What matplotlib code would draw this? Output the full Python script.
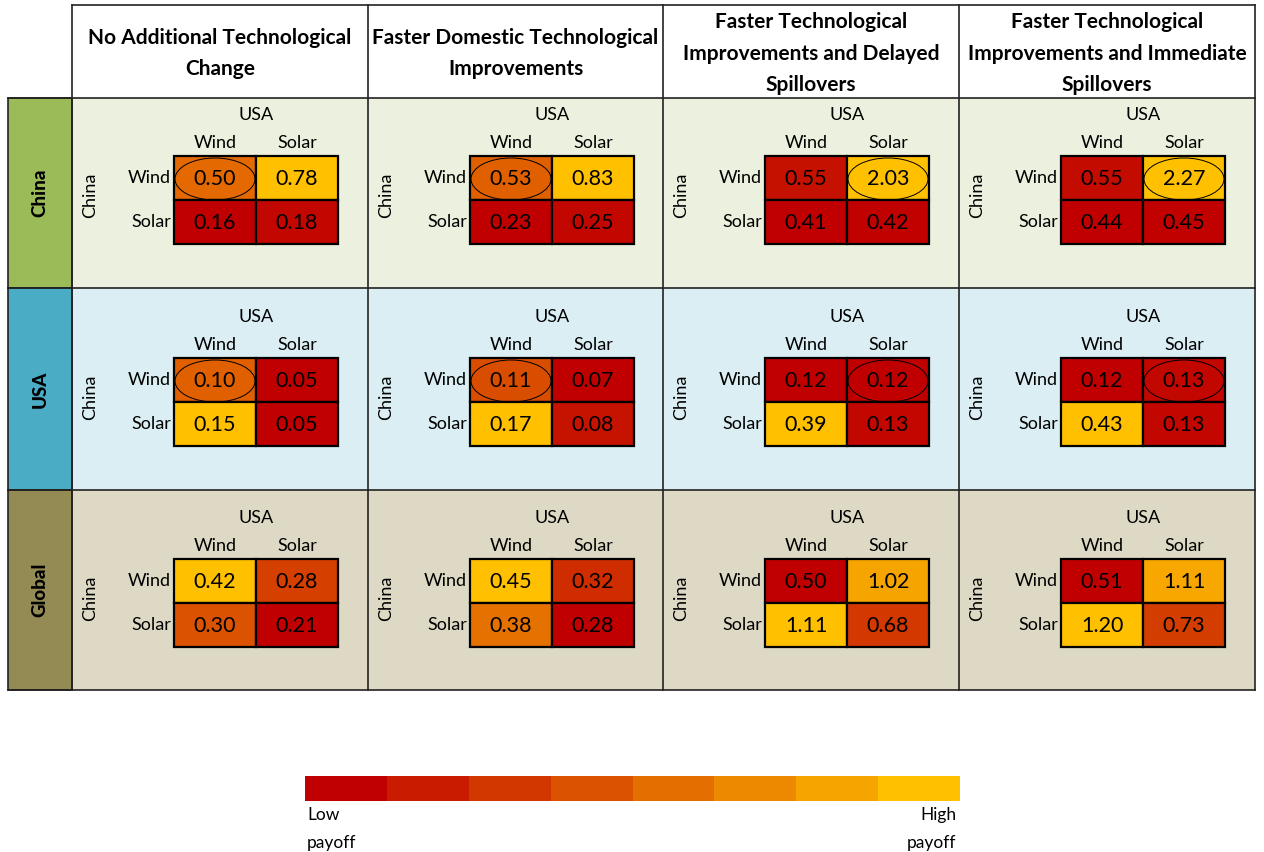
import numpy as np
import matplotlib
matplotlib.use("Agg")
import matplotlib.pyplot as plt
from matplotlib.patches import Rectangle, Ellipse
from matplotlib.colors import LinearSegmentedColormap, Normalize

plt.rcParams['font.family'] = ['Lato', 'DejaVu Sans']

# data
scenarios = ["No Additional Technological\nChange",
             "Faster Domestic Technological\nImprovements",
             "Faster Technological\nImprovements and Delayed\nSpillovers",
             "Faster Technological\nImprovements and Immediate\nSpillovers"]
regions = ["China", "USA", "Global"]
strategies = ["Wind", "Solar"]

# rows = China strategy, cols = USA strategy
china_payoff = [[[0.50, 0.78], [0.16, 0.18]],
                [[0.53, 0.83], [0.23, 0.25]],
                [[0.55, 2.03], [0.41, 0.42]],
                [[0.55, 2.27], [0.44, 0.45]]]
usa_payoff = [[[0.10, 0.05], [0.15, 0.05]],
              [[0.11, 0.07], [0.17, 0.08]],
              [[0.12, 0.12], [0.39, 0.13]],
              [[0.12, 0.13], [0.43, 0.13]]]
global_payoff = [[[0.42, 0.28], [0.30, 0.21]],
                 [[0.45, 0.32], [0.38, 0.28]],
                 [[0.50, 1.02], [1.11, 0.68]],
                 [[0.51, 1.11], [1.20, 0.73]]]
payoffs = [china_payoff, usa_payoff, global_payoff]

# circled cells (china strategy, usa strategy), None = no circle
china_eq = [(0, 0), (0, 0), (0, 1), (0, 1)]
usa_eq = [(0, 0), (0, 0), (0, 1), (0, 1)]
global_eq = [None, None, None, None]
equilibria = [china_eq, usa_eq, global_eq]

region_colors = ['#9BBB59', '#4BACC6', '#948A54']
row_bg = ['#EBF1DE', '#DAEEF3', '#DDD9C4']
legend_labels = ["Low\npayoff", "High\npayoff"]
n_legend = 8

cmap = LinearSegmentedColormap.from_list('payoff', ['#C00000', '#FFC000'])

# layout (pixels)
W, H = 1264, 852
col_edges = [72, 368, 663, 959, 1255]
row_edges = [98, 288, 490, 690]
top = 5
label_left = 8
grid_dx = 102
grid_dy = [58, 70, 69]
cw, ch = 82, 44

fig = plt.figure(figsize=(W / 100, H / 100), dpi=100)
ax = fig.add_axes([0, 0, 1, 1])
ax.set_xlim(0, W)
ax.set_ylim(H, 0)
ax.axis('off')

# row backgrounds and region label column
for r, reg in enumerate(regions):
    y0, y1 = row_edges[r], row_edges[r + 1]
    ax.add_patch(Rectangle((col_edges[0], y0), col_edges[-1] - col_edges[0], y1 - y0,
                           facecolor=row_bg[r], edgecolor='none'))
    ax.add_patch(Rectangle((label_left, y0), col_edges[0] - label_left, y1 - y0,
                           facecolor=region_colors[r], edgecolor='#222222', lw=1.2))
    ax.text((label_left + col_edges[0]) / 2, (y0 + y1) / 2, reg, rotation=90,
            ha='center', va='center', fontsize=13.5, fontweight='black')

# table lines
for x in col_edges:
    ax.plot([x, x], [top, row_edges[-1]], color='#222222', lw=1.2)
ax.plot([col_edges[0], col_edges[-1]], [top, top], color='#222222', lw=1.2)
for y in row_edges:
    ax.plot([label_left, col_edges[-1]], [y, y], color='#222222', lw=1.2)

# headers
for c, sc in enumerate(scenarios):
    ax.text((col_edges[c] + col_edges[c + 1]) / 2, (top + row_edges[0]) / 2 + 2, sc,
            ha='center', va='center', fontsize=15, fontweight='bold', linespacing=1.72)

# payoff matrices
for r in range(len(regions)):
    for c in range(len(scenarios)):
        vals = np.array(payoffs[r][c])
        norm = Normalize(vmin=vals.min(), vmax=vals.max())
        gx = col_edges[c] + grid_dx
        gy = row_edges[r] + grid_dy[r]
        ax.text(gx + cw, gy - 41, "USA", ha='center', va='center', fontsize=13)
        for j, s in enumerate(strategies):
            ax.text(gx + cw * (j + 0.5), gy - 13, s, ha='center', va='center', fontsize=13)
            ax.text(gx - 3, gy + ch * (j + 0.5), s, ha='right', va='center', fontsize=13)
        ax.text(col_edges[c] + 18, gy + ch - 5, "China", rotation=90,
                ha='center', va='center', fontsize=13)
        for i in range(2):
            for j in range(2):
                ax.add_patch(Rectangle((gx + cw * j, gy + ch * i), cw, ch,
                                       facecolor=cmap(norm(vals[i, j])),
                                       edgecolor='black', lw=1.6))
                ax.text(gx + cw * (j + 0.5), gy + ch * (i + 0.5) + 1, f"{vals[i, j]:.2f}",
                        ha='center', va='center', fontsize=15.5)
        eq = equilibria[r][c]
        if eq is not None:
            i, j = eq
            ax.add_patch(Ellipse((gx + cw * (j + 0.5), gy + ch * (i + 0.5) + 1), cw - 2, ch - 2,
                                 facecolor='none', edgecolor='black', lw=0.7))

# legend
lx0, lx1, ly0, ly1 = 305, 960, 776, 801
bw = (lx1 - lx0) / n_legend
for k in range(n_legend):
    ax.add_patch(Rectangle((lx0 + k * bw, ly0), bw, ly1 - ly0,
                           facecolor=cmap(k / (n_legend - 1)), edgecolor='none'))
ax.text(lx0 + 2, 829, legend_labels[0], ha='left', va='center', fontsize=12.5, linespacing=1.9)
ax.text(lx1 - 4, 829, legend_labels[1], ha='right', va='center', fontsize=12.5, linespacing=1.9)

fig.savefig("out.png", dpi=100)
